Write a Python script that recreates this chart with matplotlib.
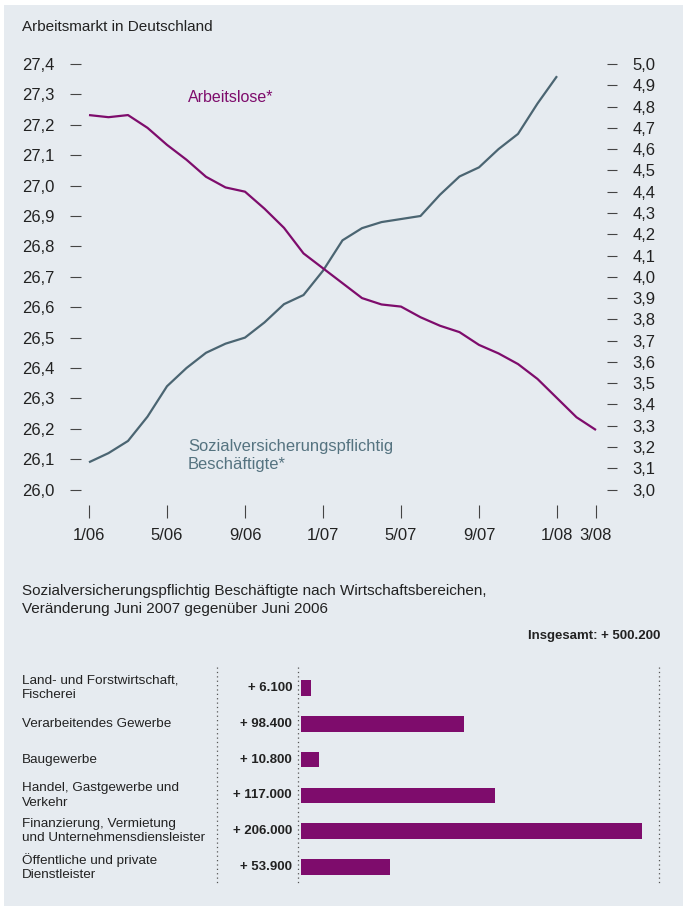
import matplotlib
matplotlib.use("Agg")
from matplotlib import pyplot as plt
from matplotlib.lines import Line2D
from matplotlib.patches import Rectangle
import matplotlib.transforms as mtransforms

plt.rcParams['font.family'] = ['Liberation Sans', 'DejaVu Sans']

# data ---------------------------------------------------------------
months = list(range(27))  # 1/06 .. 3/08
# Arbeitslose in Mio. (rechte Achse)
arbeitslose = [4.76, 4.75, 4.76, 4.70, 4.62, 4.55, 4.47, 4.42, 4.40, 4.32,
               4.23, 4.11, 4.04, 3.97, 3.90, 3.87, 3.86, 3.81, 3.77, 3.74,
               3.68, 3.64, 3.59, 3.52, 3.43, 3.34, 3.28]
# Sozialversicherungspflichtig Beschaeftigte in Mio. (linke Achse), bis 1/08
beschaeftigte = [26.09, 26.12, 26.16, 26.24, 26.34, 26.40, 26.45, 26.48, 26.50,
                 26.55, 26.61, 26.64, 26.72, 26.82, 26.86, 26.88, 26.89, 26.90,
                 26.97, 27.03, 27.06, 27.12, 27.17, 27.27, 27.36]
x_ticks = [0, 4, 8, 12, 16, 20, 24, 26]
x_labels = ['1/06', '5/06', '9/06', '1/07', '5/07', '9/07', '1/08', '3/08']
left_ticks = [26.0 + 0.1 * i for i in range(15)]
right_ticks = [3.0 + 0.1 * i for i in range(21)]

sectors = ['Land- und Forstwirtschaft,\nFischerei',
           'Verarbeitendes Gewerbe',
           'Baugewerbe',
           'Handel, Gastgewerbe und\nVerkehr',
           'Finanzierung, Vermietung\nund Unternehmensdiensleister',
           'Öffentliche und private\nDienstleister']
changes = [6100, 98400, 10800, 117000, 206000, 53900]
change_labels = ['+ 6.100', '+ 98.400', '+ 10.800', '+ 117.000', '+ 206.000', '+ 53.900']

PURPLE = '#7e0c6c'
GREY = '#4b6572'
GREYTXT = '#557380'
BG = '#e6ebf0'
TXT = '#222222'

W, H = 683, 906
fig = plt.figure(figsize=(W / 100, H / 100), dpi=100, facecolor='white')


def fx(x):
    return x / W


def fy(y):
    return 1 - y / H


fig.patches.append(Rectangle((fx(4), 0), 1 - fx(4), fy(5), transform=fig.transFigure,
                             facecolor=BG, edgecolor='none', zorder=-10))

# Linienchart ---------------------------------------------------------
ax = fig.add_axes([fx(81), fy(489.6), fx(607) - fx(81), fy(64) - fy(489.6)])
ax.set_facecolor('none')
ax2 = ax.twinx()
for a in (ax, ax2):
    for s in a.spines.values():
        s.set_visible(False)

ax.set_xlim((81 - 89) / 19.5, (607 - 89) / 19.5)
ax.set_ylim(26.0, 27.4)
ax2.set_ylim(3.0, 5.0)

ax.plot(months[:len(beschaeftigte)], beschaeftigte, color=GREY, lw=1.6, clip_on=False,
        solid_capstyle='butt', solid_joinstyle='round')
ax2.plot(months, arbeitslose, color=PURPLE, lw=1.6, clip_on=False,
         solid_capstyle='butt', solid_joinstyle='round')

ax.set_yticks(left_ticks)
ax.set_yticklabels([f'{v:.1f}'.replace('.', ',') for v in left_ticks])
ax.tick_params(axis='y', direction='out', length=8, width=0.8, color='#444444',
               pad=11, labelsize=12, labelcolor=TXT)
ax2.set_yticks(right_ticks)
ax2.set_yticklabels([f'{v:.1f}'.replace('.', ',') for v in right_ticks])
ax2.tick_params(axis='y', direction='out', length=7.2, width=0.8, color='#444444',
                pad=11, labelsize=12, labelcolor=TXT)

ax.spines['bottom'].set_position(('outward', 11))
ax.set_xticks(x_ticks)
ax.set_xticklabels(x_labels)
ax.tick_params(axis='x', direction='out', length=9.5, width=0.8, color='#444444',
               pad=7, labelsize=12, labelcolor=TXT)

fig.text(fx(22), fy(27), 'Arbeitsmarkt in Deutschland', fontsize=11, color=TXT,
         ha='left', va='center')
fig.text(fx(188), fy(97), 'Arbeitslose*', fontsize=11.5, color=PURPLE,
         ha='left', va='center')
fig.text(fx(188), fy(455), 'Sozialversicherungspflichtig\nBeschäftigte*', fontsize=11.9,
         color=GREYTXT, ha='left', va='center', linespacing=1.25)

# Balkenchart ---------------------------------------------------------
fig.text(fx(22), fy(600), 'Sozialversicherungspflichtig Beschäftigte nach Wirtschaftsbereichen,\n'
         'Veränderung Juni 2007 gegenüber Juni 2006', fontsize=11, color=TXT,
         ha='left', va='center', linespacing=1.35)
fig.text(fx(660), fy(636), 'Insgesamt: + 500.200', fontsize=9.5, color=TXT,
         ha='right', va='center', fontweight='bold')

row_h = 35.8
ax3 = fig.add_axes([fx(301), fy(885), fx(659) - fx(301), fy(667) - fy(885)])
ax3.set_facecolor('none')
ax3.set_xlim(0, (659 - 301) / 341 * 206000)
ax3.set_ylim((885 - 688) / row_h, (667 - 688) / row_h)
ax3.barh(range(len(changes)), changes, height=0.44, color=PURPLE, edgecolor='none')
ax3.axis('off')

trans = mtransforms.blended_transform_factory(fig.transFigure, ax3.transData)
for i, (name, lab) in enumerate(zip(sectors, change_labels)):
    ax3.text(fx(22), i, name, transform=trans, ha='left', va='center', fontsize=9.7,
             color=TXT, linespacing=1.25)
    ax3.text(fx(292), i, lab, transform=trans, ha='right', va='center', fontsize=9.5,
             color=TXT, fontweight='bold')

for xline in (217, 298, 659):
    fig.add_artist(Line2D([fx(xline), fx(xline)], [fy(667), fy(885)],
                          transform=fig.transFigure, color='#555555', lw=0.9,
                          linestyle=(0, (1, 2.5))))

fig.savefig('out.png', dpi=100, facecolor=fig.get_facecolor())
